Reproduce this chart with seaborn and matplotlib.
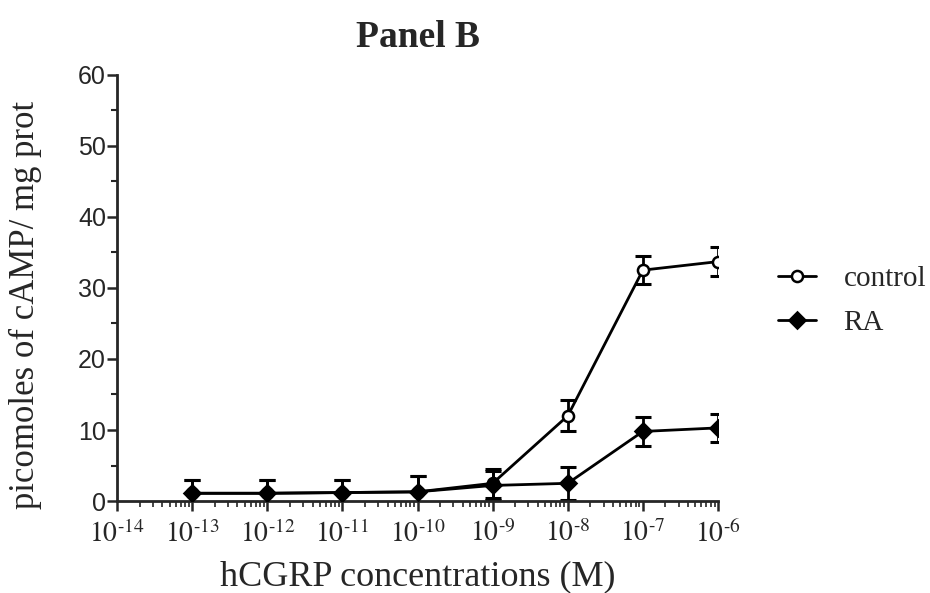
import numpy as np
import pandas as pd
import matplotlib
matplotlib.use("Agg")
import matplotlib.pyplot as plt
import seaborn as sns
from matplotlib.ticker import LogLocator, MultipleLocator, FuncFormatter

# Data
concentrations = [1e-13, 1e-12, 1e-11, 1e-10, 1e-9, 1e-8, 1e-7, 1e-6]
control_mean = [1.1, 1.1, 1.2, 1.3, 2.5, 12.0, 32.5, 33.7]
control_err = [1.8, 1.8, 1.8, 2.2, 2.0, 2.2, 2.0, 2.0]
ra_mean = [1.1, 1.1, 1.2, 1.3, 2.2, 2.5, 9.8, 10.3]
ra_err = [1.8, 1.8, 1.8, 2.2, 2.0, 2.3, 2.1, 2.0]
series_names = ["control", "RA"]

df = pd.DataFrame({
    "conc": concentrations * 2,
    "value": control_mean + ra_mean,
    "err": control_err + ra_err,
    "series": ["control"] * len(concentrations) + ["RA"] * len(concentrations),
})

sns.set_style("ticks")
plt.rcParams["font.family"] = ["Liberation Serif", "DejaVu Serif"]
plt.rcParams["mathtext.fontset"] = "stix"

fig = plt.figure(figsize=(9.3, 5.93), dpi=100)
ax = fig.add_axes([0.126, 0.155, 0.646, 0.719])

styles = {
    "control": dict(marker="o", mfc="white", ms=8),
    "RA": dict(marker="D", mfc="black", ms=8),
}
for name in series_names:
    sub = df[df["series"] == name]
    ax.errorbar(sub["conc"], sub["value"], yerr=sub["err"], fmt="none",
                ecolor="black", elinewidth=2, capsize=6, capthick=2.2, zorder=2)
    sns.lineplot(data=sub, x="conc", y="value", ax=ax, color="black",
                 linewidth=2, marker=styles[name]["marker"],
                 markerfacecolor=styles[name]["mfc"], markeredgecolor="black",
                 markeredgewidth=1.8, markersize=styles[name]["ms"],
                 label=name, zorder=3)

ax.set_xscale("log")
ax.set_xlim(1e-14, 1e-6)
ax.set_ylim(0, 60)
ax.xaxis.set_major_locator(LogLocator(base=10, numticks=20))
ax.xaxis.set_minor_locator(LogLocator(base=10, subs=np.arange(2, 10), numticks=100))
ax.xaxis.set_major_formatter(FuncFormatter(
    lambda v, p: r"$10^{\text{-}%d}$" % abs(int(round(np.log10(v))))))
ax.yaxis.set_major_locator(MultipleLocator(10))
ax.yaxis.set_minor_locator(MultipleLocator(5))

for lab in ax.get_yticklabels():
    lab.set_family(["Liberation Sans", "DejaVu Sans"])
ax.tick_params(axis="y", which="major", labelsize=18, length=7, width=1.8,
               direction="out", pad=1)
ax.tick_params(axis="y", which="minor", length=4, width=1.5)
ax.tick_params(axis="x", which="major", labelsize=20, length=7, width=1.8,
               direction="out", pad=7)
ax.tick_params(axis="x", which="minor", length=4, width=1.2)

sns.despine(ax=ax)
for s in ["left", "bottom"]:
    ax.spines[s].set_linewidth(2)

ax.set_xlabel("hCGRP concentrations (M)", fontsize=26, labelpad=9)
ax.set_ylabel("picomoles of cAMP/ mg prot", fontsize=25)
ax.yaxis.set_label_coords(-0.125, 0.46)
ax.set_title("Panel B", fontsize=27, fontweight="bold", pad=20)

ax.legend(loc="center left", bbox_to_anchor=(1.10, 0.47), frameon=False,
          fontsize=21, handlelength=1.3, handletextpad=0.95, labelspacing=0.6,
          borderaxespad=0, borderpad=0)

fig.savefig("out.png", dpi=100)
